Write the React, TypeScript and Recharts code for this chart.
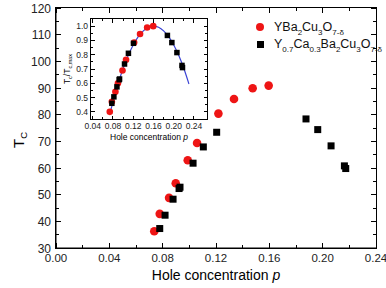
import React from "react";
import { ScatterChart, Scatter, XAxis, YAxis } from "recharts";

// YBa2Cu3O7-d
const ybcoP = [0.0737, 0.0778, 0.0848, 0.0898, 0.0988, 0.1058, 0.1218, 0.1335, 0.1475, 0.1595];
const ybcoTc = [36.3, 42.8, 48.8, 54.3, 62.9, 69.4, 80.4, 85.9, 89.9, 90.9];

// Y0.7Ca0.3Ba2Cu3O7-d
const caP = [0.0778, 0.0818, 0.0878, 0.0923, 0.093, 0.1028, 0.1105, 0.1205, 0.1875, 0.1963, 0.2063, 0.2163, 0.2173];
const caTc = [37.3, 42.3, 48.3, 52.3, 52.8, 61.8, 67.9, 73.4, 78.4, 74.4, 68.3, 60.8, 59.8];

// inset: Tc / Tc,max
const ybcoRatio = [0.4, 0.47, 0.54, 0.6, 0.69, 0.765, 0.885, 0.945, 0.99, 1.0];
const caRatio = [0.46, 0.505, 0.575, 0.625, 0.63, 0.735, 0.81, 0.88, 0.935, 0.885, 0.815, 0.725, 0.71];

// parabolic dome in the inset
const domeP = [0.075, 0.09, 0.1, 0.11, 0.12, 0.13, 0.14, 0.15, 0.16, 0.17, 0.18, 0.19, 0.2, 0.21, 0.22, 0.23];
const domeRatio = [0.403, 0.595, 0.703, 0.794, 0.868, 0.926, 0.967, 0.992, 1.0, 0.992, 0.967, 0.926, 0.868, 0.794, 0.703, 0.595];

const xTicks = [0, 0.02, 0.04, 0.06, 0.08, 0.1, 0.12, 0.14, 0.16, 0.18, 0.2, 0.22, 0.24];
const yTicks = [30, 35, 40, 45, 50, 55, 60, 65, 70, 75, 80, 85, 90, 95, 100, 105, 110, 115, 120];
const insetXTicks = [0.04, 0.06, 0.08, 0.1, 0.12, 0.14, 0.16, 0.18, 0.2, 0.22, 0.24];
const insetYTicks = [0.4, 0.45, 0.5, 0.55, 0.6, 0.65, 0.7, 0.75, 0.8, 0.85, 0.9, 0.95, 1.0];

const X_DOMAIN = [0, 0.24];
const Y_DOMAIN = [30, 120];
const IN_X_DOMAIN = [0.0366, 0.2657];
const IN_Y_DOMAIN = [0.35, 1.05];

const RED = "#ee1515";
const BLUE = "#3b44d4";
const FONT = "'Liberation Sans', Arial, sans-serif";

const zip = (xs: number[], ys: number[]) => xs.map((x, i) => ({ x, y: ys[i] }));

const ybco = zip(ybcoP, ybcoTc);
const ca = zip(caP, caTc);
const ybcoInset = zip(ybcoP, ybcoRatio);
const caInset = zip(caP, caRatio);
const dome = zip(domeP, domeRatio);

// main plot box
const TOP = 8;
const BOTTOM = 248;
const LEFT = 56;
const RIGHT = 376;

// inset plot box
const I_LEFT = 91;
const I_TOP = 19;
const I_RIGHT = 207;
const I_BOTTOM = 119;

const isMajorX = (v: number) => Math.round(v * 100) % 4 === 0;
const isMajorY = (v: number) => Math.round(v) % 10 === 0;
const isMajorIn = (v: number) => Math.round(v * 100) % 10 === 0;

// pixel position of a value along a box edge (same linear mapping as the axes)
const lerp = (v: number, d: number[], a: number, b: number) => a + ((v - d[0]) / (d[1] - d[0])) * (b - a);

const MainXTick = (props: any) => {
  const v = props.payload.value;
  return (
    <g>
      {v === 0 && (
        <text x={216} y={280} textAnchor="middle" fontSize={14} fill="#000" fontFamily={FONT}>
          Hole concentration <tspan fontStyle="italic">p</tspan>
        </text>
      )}
      {isMajorX(v) && (
        <text x={props.x} y={262} textAnchor="middle" fontSize={11.5} fill="#222" fontFamily={FONT}>
          {v.toFixed(2)}
        </text>
      )}
    </g>
  );
};

const MainYTick = (props: any) => {
  const v = props.payload.value;
  return (
    <g>
      {v === 30 && (
        <text x={24} y={140} transform="rotate(-90 24 140)" textAnchor="middle" fontSize={15} fill="#000" fontFamily={FONT}>
          T<tspan dy={3} fontSize={9.5}>C</tspan>
        </text>
      )}
      {isMajorY(v) && (
        <text x={51} y={props.y + 4.5} textAnchor="end" fontSize={12} fill="#222" fontFamily={FONT}>
          {v}
        </text>
      )}
    </g>
  );
};

const Dot = (r: number) => (p: any) => <circle cx={p.cx} cy={p.cy} r={r} fill={RED} />;
const Square = (s: number) => (p: any) => (
  <rect x={p.cx - s / 2} y={p.cy - s / 2} width={s} height={s} fill="#000" />
);

const abs = (style: any) => <div style={{ position: "absolute", pointerEvents: "none", ...style }} />;

const Box = ({ l, t, r, b }: any) =>
  abs({ left: l - 0.5, top: t - 0.5, width: r - l, height: b - t, border: "1px solid #000", marginLeft: -0.5, marginTop: -0.5 });

// inward tick marks on all four sides of a box
const TickMarks = ({ xs, ys, xd, yd, l, t, r, b, major, majorX, big, small, w }: any) => (
  <>
    {xs.map((v: number, i: number) => {
      const x = lerp(v, xd, l, r);
      const len = majorX(v) ? big : small;
      return (
        <React.Fragment key={"x" + i}>
          {abs({ left: x - w / 2, top: b - len, width: w, height: len, background: "#000" })}
          {abs({ left: x - w / 2, top: t, width: w, height: len, background: "#000" })}
        </React.Fragment>
      );
    })}
    {ys.map((v: number, i: number) => {
      const y = lerp(v, yd, b, t);
      const len = major(v) ? big : small;
      return (
        <React.Fragment key={"y" + i}>
          {abs({ left: l, top: y - w / 2, width: len, height: w, background: "#000" })}
          {abs({ left: r - len, top: y - w / 2, width: len, height: w, background: "#000" })}
        </React.Fragment>
      );
    })}
  </>
);

const InsetText = () => {
  const txt = { fontFamily: FONT, fontSize: 8.5, color: "#222", lineHeight: "10px", whiteSpace: "nowrap" as const };
  const sub = { fontSize: 5.5, position: "relative" as const, top: 2 };
  return (
    <>
      {insetXTicks.filter(isMajorX).map((v) => (
        <div
          key={"ix" + v}
          style={{ position: "absolute", ...txt, left: lerp(v, IN_X_DOMAIN, I_LEFT, I_RIGHT), top: I_BOTTOM + 2, transform: "translateX(-50%)" }}
        >
          {v.toFixed(2)}
        </div>
      ))}
      {insetYTicks.filter(isMajorIn).map((v) => (
        <div
          key={"iy" + v}
          style={{ position: "absolute", ...txt, left: I_LEFT - 23, width: 20, textAlign: "right", top: lerp(v, IN_Y_DOMAIN, I_BOTTOM, I_TOP) - 5 }}
        >
          {v.toFixed(1)}
        </div>
      ))}
      <div style={{ position: "absolute", ...txt, color: "#000", left: (I_LEFT + I_RIGHT) / 2, top: I_BOTTOM + 13, transform: "translateX(-50%)" }}>
        Hole concentration <i>p</i>
      </div>
      <div
        style={{
          position: "absolute",
          ...txt,
          color: "#000",
          left: 67,
          top: (I_TOP + I_BOTTOM) / 2,
          transform: "translate(-50%, -50%) rotate(-90deg)",
        }}
      >
        T<span style={sub}>c</span>/T<span style={sub}>c,max</span>
      </div>
    </>
  );
};

const legendItems = [
  { kind: "dot", parts: [["Y", ""], ["Ba", ""], ["2", "sub"], ["Cu", ""], ["3", "sub"], ["O", ""], ["7-\u03b4", "sub"]] },
  {
    kind: "square",
    parts: [["Y", ""], ["0.7", "sub"], ["Ca", ""], ["0.3", "sub"], ["Ba", ""], ["2", "sub"], ["Cu", ""], ["3", "sub"], ["O", ""], ["7-\u03b4", "sub"]],
  },
];

const LegendBox = () => (
  <div style={{ position: "absolute", left: 249, top: 18, fontFamily: FONT, fontSize: 12.5, color: "#111" }}>
    {legendItems.map((item, i) => (
      <div key={i} style={{ display: "flex", alignItems: "center", height: 17.5 }}>
        <div style={{ width: 22, display: "flex", justifyContent: "center" }}>
          {item.kind === "dot" ? (
            <div style={{ width: 8.5, height: 8.5, borderRadius: "50%", background: RED }} />
          ) : (
            <div style={{ width: 7, height: 7, background: "#000" }} />
          )}
        </div>
        <span style={{ marginLeft: 3, whiteSpace: "nowrap" }}>
          {item.parts.map(([t, k], j) =>
            k === "sub" ? (
              <span key={j} style={{ fontSize: 8, position: "relative", top: 4 }}>
                {t}
              </span>
            ) : (
              <span key={j}>{t}</span>
            )
          )}
        </span>
      </div>
    ))}
  </div>
);

export default function App() {
  return (
    <div style={{ position: "absolute", left: 0, top: 0, width: 386, height: 288, background: "#fff" }}>
      <ScatterChart width={386} height={288} margin={{ top: 8, right: 10, left: 0, bottom: 0 }}>
        <XAxis
          type="number"
          dataKey="x"
          domain={X_DOMAIN}
          ticks={xTicks}
          interval={0}
          tickSize={0}
          stroke="#000"
          tick={MainXTick}
          height={40}
        />
        <YAxis
          type="number"
          dataKey="y"
          domain={Y_DOMAIN}
          ticks={yTicks}
          interval={0}
          tickSize={0}
          stroke="#000"
          tick={MainYTick}
          width={56}
        />
        {/* inset axes share the plot area, squeezed into the inset box by padding */}
        <XAxis
          xAxisId="inset"
          type="number"
          dataKey="x"
          domain={IN_X_DOMAIN}
          allowDataOverflow
          hide
          padding={{ left: I_LEFT - LEFT, right: RIGHT - I_RIGHT }}
        />
        <YAxis
          yAxisId="inset"
          type="number"
          dataKey="y"
          domain={IN_Y_DOMAIN}
          allowDataOverflow
          hide
          padding={{ top: I_TOP - TOP, bottom: BOTTOM - I_BOTTOM }}
        />
        <Scatter name="YBa2Cu3O7-d" data={ybco} shape={Dot(4.3)} isAnimationActive={false} />
        <Scatter name="Y0.7Ca0.3Ba2Cu3O7-d" data={ca} shape={Square(7)} isAnimationActive={false} />
        <Scatter
          xAxisId="inset"
          yAxisId="inset"
          data={dome}
          line={{ stroke: BLUE, strokeWidth: 1.2 }}
          lineJointType="monotoneX"
          shape={() => <g />}
          isAnimationActive={false}
        />
        <Scatter xAxisId="inset" yAxisId="inset" data={ybcoInset} shape={Dot(3.3)} isAnimationActive={false} />
        <Scatter xAxisId="inset" yAxisId="inset" data={caInset} shape={Square(5.5)} isAnimationActive={false} />
      </ScatterChart>
      <Box l={LEFT} t={TOP} r={RIGHT} b={BOTTOM} />
      <TickMarks
        xs={xTicks}
        ys={yTicks}
        xd={X_DOMAIN}
        yd={Y_DOMAIN}
        l={LEFT}
        t={TOP}
        r={RIGHT}
        b={BOTTOM}
        major={isMajorY}
        majorX={isMajorX}
        big={5}
        small={3}
        w={1}
      />
      <Box l={I_LEFT} t={I_TOP} r={I_RIGHT} b={I_BOTTOM} />
      <TickMarks
        xs={insetXTicks}
        ys={insetYTicks}
        xd={IN_X_DOMAIN}
        yd={IN_Y_DOMAIN}
        l={I_LEFT}
        t={I_TOP}
        r={I_RIGHT}
        b={I_BOTTOM}
        major={isMajorIn}
        majorX={isMajorX}
        big={3.5}
        small={2}
        w={1}
      />
      <InsetText />
      <LegendBox />
    </div>
  );
}
